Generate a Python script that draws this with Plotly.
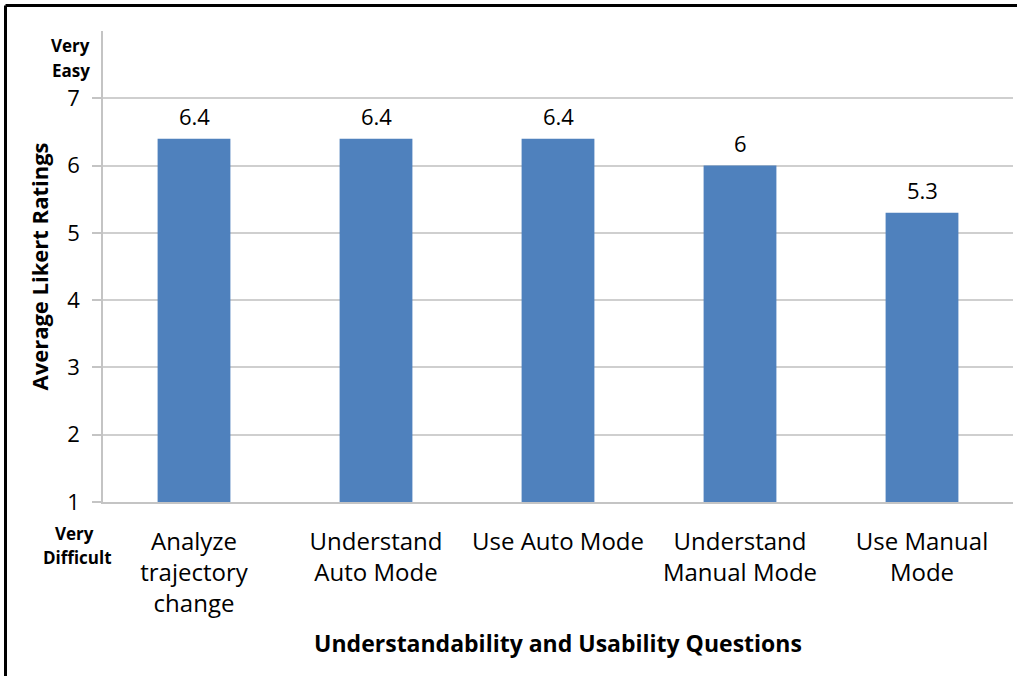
import plotly.graph_objects as go

categories = ["Analyze<br>trajectory<br>change", "Understand<br>Auto Mode", "Use Auto Mode",
              "Understand<br>Manual Mode", "Use Manual<br>Mode"]
ratings = [6.4, 6.4, 6.4, 6, 5.3]
rating_labels = ["6.4", "6.4", "6.4", "6", "5.3"]
y_ticks = [1, 2, 3, 4, 5, 6, 7]

W, H = 1017, 676
L, R, T, B = 103, 4, 31, 174
pw, ph = W - L - R, H - T - B

FONT = "Open Sans"

fig = go.Figure()
fig.add_trace(go.Bar(
    x=categories, y=[v - 1 for v in ratings], base=1,
    marker=dict(color="#4F81BD", line=dict(width=0)),
    cliponaxis=False, width=0.4, hoverinfo="skip",
))

# value labels above bars
for cat, val, lab in zip(categories, ratings, rating_labels):
    fig.add_annotation(x=cat, y=val, text=lab, showarrow=False,
                       xanchor="center", yanchor="bottom", yshift=6,
                       font=dict(family=FONT, size=22, color="#000000"))

fig.update_layout(
    width=W, height=H,
    margin=dict(l=L, r=R, t=T, b=B, autoexpand=False),
    paper_bgcolor="white", plot_bgcolor="white",
    showlegend=False,
    font=dict(family=FONT, color="#000000"),
    xaxis=dict(
        type="category", automargin=False,
        showgrid=False, showline=True, linecolor="#C4C4C4", linewidth=1.5,
        ticks="", tickfont=dict(family=FONT, size=24, color="#000000"),
        tickangle=0, ticklabelstandoff=17,
        title=dict(text="<b>Understandability and Usability Questions</b>",
                   font=dict(family=FONT, size=23), standoff=18),
    ),
    yaxis=dict(
        range=[1, 8], tickvals=y_ticks, ticktext=[str(v) for v in y_ticks],
        automargin=False,
        showgrid=True, gridcolor="#CFCFCF", gridwidth=1.5,
        showline=True, linecolor="#C4C4C4", linewidth=1.5,
        ticks="outside", ticklen=9, tickcolor="#C4C4C4", tickwidth=1.5,
        tickfont=dict(family=FONT, size=22, color="#000000"),
        ticklabelstandoff=8,
        zeroline=False,
        title=dict(text="<b>Average Likert Ratings</b>",
                   font=dict(family=FONT, size=22), standoff=13),
    ),
)

def px_x(px):
    return (px - L) / pw

def px_y(py):
    return 1 - (py - T) / ph

# Very Easy / Very Difficult labels
for txt, cx, py in [("Very", 70, 45), ("Easy", 71, 70), ("Very", 74, 533), ("Difficult", 77, 557)]:
    fig.add_annotation(text="<b>" + txt + "</b>", xref="paper", yref="paper",
                       x=px_x(cx), y=px_y(py),
                       xanchor="center", yanchor="middle", showarrow=False,
                       font=dict(family=FONT, size=17, color="#000000"))

# figure frame (left and top edges visible)
fig.add_shape(type="line", xref="paper", yref="paper",
              x0=px_x(5.5), x1=px_x(W + 5), y0=px_y(5.5), y1=px_y(5.5),
              line=dict(color="#000000", width=3))
fig.add_shape(type="line", xref="paper", yref="paper",
              x0=px_x(5.5), x1=px_x(5.5), y0=px_y(5.5), y1=px_y(H + 5),
              line=dict(color="#000000", width=3))

fig.write_html("out.html", config={"displayModeBar": False},
               post_script="document.body.style.margin='0';")
